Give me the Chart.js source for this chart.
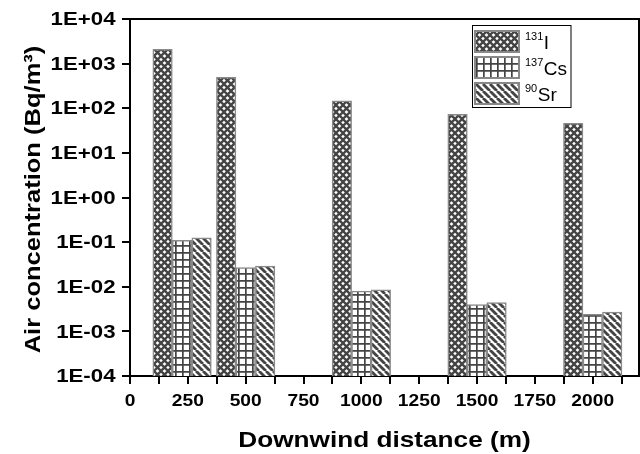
<!DOCTYPE html>
<html>
<head>
<meta charset="utf-8">
<script src="https://cdn.jsdelivr.net/npm/chart.js@4.4.0/dist/chart.umd.min.js"></script>
<style>
  html, body { margin: 0; padding: 0; background: #fff; }
  canvas { display: block; }
</style>
</head>
<body>
<canvas id="chart" width="640" height="454"></canvas>
<script>
// data
const distances = [225, 500, 1000, 1500, 2000];
const iodine = [2100, 490, 147, 73, 46];
const cesium = [0.11, 0.027, 0.008, 0.004, 0.0024];
const strontium = [0.125, 0.029, 0.0085, 0.0044, 0.0027];
const seriesNames = [['131', 'I'], ['137', 'Cs'], ['90', 'Sr']];
const yTicks = [1e-4, 1e-3, 1e-2, 1e-1, 1, 10, 100, 1e3, 1e4];
const xTicks = [0, 125, 250, 375, 500, 625, 750, 875, 1000, 1125, 1250, 1375, 1500, 1625, 1750, 1875, 2000, 2125];
const xLabels = [0, 250, 500, 750, 1000, 1250, 1500, 1750, 2000];

const FONT = '"Liberation Sans", Arial, sans-serif';
const INK = '#444';

function makePattern(kind) {
  const s = kind === 'grid' ? 6.5 : 7;
  const c = document.createElement('canvas');
  c.width = Math.round(s); c.height = Math.round(s);
  const g = c.getContext('2d');
  const n = c.width;
  g.fillStyle = '#fff';
  g.fillRect(0, 0, n, n);
  g.strokeStyle = INK;
  if (kind === 'cross') {
    g.lineWidth = 2.3;
    for (const o of [-n, 0, n]) {
      g.beginPath(); g.moveTo(o, 0); g.lineTo(o + n, n); g.stroke();
      g.beginPath(); g.moveTo(o, n); g.lineTo(o + n, 0); g.stroke();
    }
  } else if (kind === 'grid') {
    g.lineWidth = 1.7;
    g.beginPath();
    g.moveTo(0.85, 0); g.lineTo(0.85, n);
    g.moveTo(0, 0.85); g.lineTo(n, 0.85);
    g.stroke();
  } else {
    g.lineWidth = 2.8;
    for (const o of [-n, 0, n]) {
      g.beginPath(); g.moveTo(o, 0); g.lineTo(o + n, n); g.stroke();
    }
  }
  return g.createPattern(c, 'repeat');
}

const patterns = [makePattern('cross'), makePattern('grid'), makePattern('diag')];

function points(values) {
  return distances.map((d, i) => ({ x: d, y: values[i] }));
}

function sci(v) {
  const e = Math.round(Math.log10(v));
  return '1E' + (e < 0 ? '-' : '+') + String(Math.abs(e)).padStart(2, '0');
}

function wideText(ctx, str, x, y, sx, align) {
  ctx.save();
  ctx.translate(x, y);
  ctx.scale(sx, 1);
  ctx.textAlign = align;
  ctx.fillText(str, 0, 0);
  ctx.restore();
}

const decor = {
  id: 'decor',
  afterDraw(chart) {
    const { ctx, chartArea: a } = chart;
    const x = chart.scales.x, y = chart.scales.y;
    ctx.save();

    // top and right frame
    ctx.strokeStyle = '#000';
    ctx.lineWidth = 2;
    ctx.beginPath();
    ctx.moveTo(a.left - 1, a.top);
    ctx.lineTo(a.right, a.top);
    ctx.lineTo(a.right, a.bottom + 1);
    ctx.stroke();

    ctx.fillStyle = '#000';
    // y tick labels
    ctx.font = 'bold 19px ' + FONT;
    ctx.textBaseline = 'middle';
    yTicks.forEach(v => wideText(ctx, sci(v), 115.5, y.getPixelForValue(v) + 1, 1.17, 'right'));

    // x tick labels
    ctx.font = 'bold 17px ' + FONT;
    ctx.textBaseline = 'alphabetic';
    xLabels.forEach(v => wideText(ctx, String(v), x.getPixelForValue(v), 406, 1.13, 'center'));

    // axis titles
    ctx.font = 'bold 22px ' + FONT;
    wideText(ctx, 'Downwind distance (m)', (a.left + a.right) / 2, 446.5, 1.19, 'center');
    ctx.save();
    ctx.translate(40, 199.5);
    ctx.rotate(-Math.PI / 2);
    ctx.scale(1.16, 1);
    ctx.textAlign = 'center';
    ctx.fillText('Air concentration (Bq/m³)', 0, 0);
    ctx.restore();

    // legend
    ctx.lineWidth = 1;
    ctx.strokeStyle = '#000';
    ctx.fillStyle = '#fff';
    ctx.fillRect(472, 25.5, 99, 82);
    ctx.strokeRect(472.5, 25.5, 98.5, 82);
    const rows = [31, 57, 83];
    seriesNames.forEach((n, i) => {
      ctx.fillStyle = patterns[i];
      ctx.fillRect(475, rows[i], 44, 21);
      ctx.strokeStyle = '#888';
      ctx.lineWidth = 2;
      ctx.strokeRect(475, rows[i], 44, 21);
      const base = rows[i] + 17.5;
      ctx.fillStyle = '#000';
      ctx.textAlign = 'left';
      ctx.font = '11px ' + FONT;
      ctx.fillText(n[0], 525, base - 9);
      const w = ctx.measureText(n[0]).width;
      ctx.font = '19px ' + FONT;
      ctx.fillText(n[1], 525 + w + 0.5, base);
    });
    ctx.restore();
  }
};

const barStyle = { borderColor: '#8a8a8a', borderWidth: 1.5, barThickness: 19.5 };

new Chart(document.getElementById('chart'), {
  type: 'bar',
  data: {
    datasets: [
      { label: '131I', data: points(iodine), backgroundColor: patterns[0], ...barStyle },
      { label: '137Cs', data: points(cesium), backgroundColor: patterns[1], ...barStyle },
      { label: '90Sr', data: points(strontium), backgroundColor: patterns[2], ...barStyle }
    ]
  },
  options: {
    responsive: false,
    devicePixelRatio: 1,
    animation: false,
    layout: { padding: { left: 0, top: 19, right: 1, bottom: 0 } },
    plugins: { legend: { display: false }, tooltip: { enabled: false } },
    scales: {
      x: {
        type: 'linear',
        min: 0,
        max: 2200,
        offset: false,
        afterBuildTicks: s => { s.ticks = xTicks.map(v => ({ value: v })); },
        afterFit: s => { s.height = 78; },
        ticks: { display: false },
        grid: { offset: false, drawOnChartArea: false, color: '#000', lineWidth: 2, tickLength: 8 },
        border: { color: '#000', width: 2 }
      },
      y: {
        type: 'logarithmic',
        min: 1e-4,
        max: 1e4,
        beginAtZero: false,
        afterBuildTicks: s => { s.ticks = yTicks.map(v => ({ value: v })); },
        afterFit: s => { s.width = 130; },
        ticks: { display: false },
        grid: { drawOnChartArea: false, color: '#000', lineWidth: 2, tickLength: 8 },
        border: { color: '#000', width: 2 }
      }
    }
  },
  plugins: [decor]
});
</script>
</body>
</html>
